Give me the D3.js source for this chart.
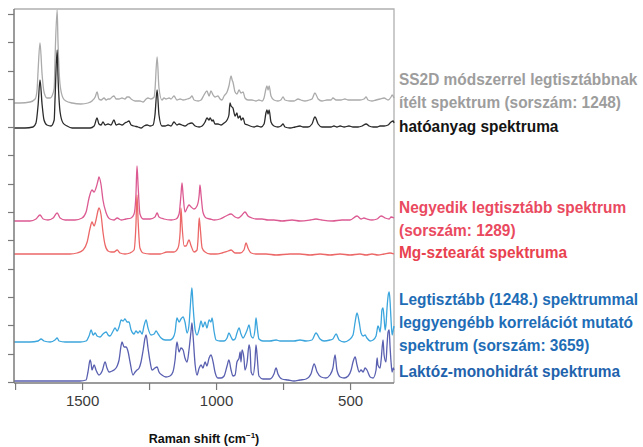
<!DOCTYPE html>
<html>
<head>
<meta charset="utf-8">
<script src="https://cdn.jsdelivr.net/npm/d3@7"></script>
<style>
  body { margin: 0; background: #fff; }
  svg { display: block; font-family: "Liberation Sans", Arial, sans-serif; }
  .line { fill: none; stroke-width: 1.3; stroke-linejoin: round; }
</style>
</head>
<body>
<div id="chart"></div>
<script>
// x: Raman shift (cm-1), y: intensity (a.u., spectra stacked)
var xDomain = [1754, 336];
var xTicks = [1750, 1500, 1250, 1000, 750, 500];
var xTickLabels = [1500, 1000, 500];
var yTicks = [0, 28, 57, 85, 113, 142, 170, 198, 227, 255, 283, 311, 340, 368];

// SS2D módszerrel legtisztábbnak ítélt spektrum
var ss2d = [[1754,279],[1731,279],[1694,280],[1675,283],[1668,292],[1664,312],[1657,339],[1649,307],[1642,290],
  [1631,284],[1619,284],[1612,286],[1604,294],[1601,322],[1593,372],[1590,342],[1582,297],[1571,284],[1560,281],
  [1537,279],[1504,278],[1478,279],[1463,281],[1451,285],[1444,290],[1437,283],[1429,282],[1418,284],[1410,282],
  [1403,283],[1396,283],[1388,285],[1381,286],[1373,283],[1362,283],[1351,284],[1340,283],[1332,285],[1325,285],
  [1317,283],[1302,281],[1284,281],[1272,280],[1261,283],[1254,284],[1243,283],[1231,285],[1228,292],[1220,325],
  [1213,294],[1202,282],[1194,284],[1187,283],[1175,284],[1168,283],[1157,286],[1146,282],[1134,283],[1123,282],
  [1108,283],[1097,284],[1090,286],[1082,282],[1067,281],[1056,282],[1045,287],[1034,291],[1026,286],[1019,291],
  [1011,287],[1004,285],[993,286],[985,283],[978,282],[970,286],[959,290],[952,296],[944,306],[940,302],[937,300],
  [929,290],[922,288],[914,292],[907,289],[899,290],[892,284],[881,282],[866,282],[851,281],[840,282],[828,281],
  [821,284],[813,294],[810,296],[806,292],[802,296],[795,286],[784,282],[769,281],[758,282],[750,285],[743,282],
  [724,281],[709,281],[694,283],[683,282],[668,281],[653,282],[642,283],[631,289],[619,283],[605,281],[586,282],
  [571,282],[564,284],[552,282],[534,282],[519,283],[507,282],[493,282],[478,282],[463,282],[448,283],[440,285],
  [433,282],[418,281],[403,282],[388,283],[373,284],[358,282],[347,285],[343,287],[336,284]];

// hatóanyag spektruma
var api = [[1754,254],[1713,254],[1683,255],[1672,259],[1664,277],[1657,302],[1649,277],[1642,262],[1631,257],
  [1616,256],[1604,262],[1601,282],[1593,332],[1590,307],[1582,270],[1571,259],[1556,256],[1537,254],[1504,254],
  [1470,254],[1455,256],[1444,264],[1437,258],[1429,257],[1422,260],[1414,257],[1403,258],[1392,257],[1381,262],
  [1373,257],[1362,258],[1351,257],[1340,259],[1332,260],[1325,261],[1317,257],[1306,256],[1291,255],[1280,254],
  [1269,256],[1257,257],[1246,256],[1235,257],[1228,267],[1220,292],[1213,267],[1202,256],[1190,256],[1179,257],
  [1168,256],[1157,260],[1146,257],[1138,258],[1127,257],[1116,256],[1104,258],[1090,259],[1078,256],[1063,255],
  [1052,256],[1041,260],[1034,264],[1026,262],[1022,264],[1015,261],[1011,262],[1004,258],[993,258],[981,257],
  [970,259],[959,262],[952,267],[948,279],[944,276],[937,274],[929,266],[922,269],[918,264],[910,266],[907,262],
  [899,264],[892,258],[881,257],[873,256],[858,255],[847,256],[832,255],[821,258],[813,270],[810,272],[806,268],
  [802,272],[795,260],[784,256],[769,255],[758,256],[750,258],[743,255],[724,254],[705,255],[687,256],[675,255],
  [657,255],[642,258],[631,265],[619,258],[605,255],[586,255],[571,255],[560,256],[549,255],[537,256],[522,255],
  [504,256],[489,255],[470,255],[455,256],[440,258],[429,256],[414,255],[399,255],[388,256],[373,256],[358,257],
  [347,260],[339,261],[336,259]];

// Negyedik legtisztább spektrum (sorszám: 1289)
var fourth = [[1754,161],[1694,161],[1672,163],[1657,167],[1645,163],[1627,162],[1608,164],[1593,169],[1582,164],
  [1563,162],[1526,162],[1500,164],[1485,170],[1474,184],[1463,192],[1455,190],[1448,194],[1440,202],[1437,205],
  [1429,197],[1422,182],[1410,169],[1396,163],[1381,162],[1369,164],[1354,162],[1336,163],[1317,164],[1306,168],
  [1299,187],[1295,216],[1291,197],[1284,168],[1272,163],[1246,163],[1228,165],[1220,169],[1213,165],[1194,163],
  [1168,162],[1149,163],[1138,168],[1131,187],[1127,199],[1123,187],[1116,170],[1108,174],[1101,177],[1093,175],
  [1082,173],[1071,176],[1063,187],[1060,197],[1056,187],[1049,170],[1037,164],[1022,163],[1007,162],[985,163],
  [963,166],[944,168],[929,165],[918,164],[903,167],[892,170],[881,166],[866,164],[851,163],[828,163],[806,162],
  [784,162],[754,161],[716,162],[687,161],[649,162],[627,163],[605,162],[567,161],[530,162],[500,162],[474,166],
  [459,163],[448,164],[437,163],[418,162],[399,163],[384,166],[369,164],[354,163],[347,165],[336,164]];

// Mg-sztearát spektruma
var mgst = [[1754,128],[1657,128],[1593,128],[1545,128],[1519,129],[1496,132],[1481,140],[1470,154],[1463,160],
  [1455,156],[1448,162],[1440,172],[1437,174],[1429,167],[1422,150],[1414,137],[1403,131],[1392,130],[1381,130],
  [1369,132],[1358,129],[1340,128],[1321,129],[1306,132],[1299,157],[1295,187],[1291,162],[1284,134],[1272,129],
  [1246,128],[1209,128],[1183,130],[1172,130],[1157,130],[1142,134],[1134,150],[1131,174],[1127,157],[1119,136],
  [1112,136],[1101,142],[1093,136],[1082,130],[1071,132],[1067,144],[1063,164],[1060,157],[1052,134],[1041,130],
  [1022,128],[1000,128],[978,129],[955,131],[944,132],[929,129],[910,129],[896,132],[888,139],[881,134],[869,129],
  [851,128],[813,128],[776,127],[724,128],[687,128],[649,127],[612,128],[575,127],[537,128],[500,127],[463,128],
  [440,127],[418,128],[396,127],[373,128],[351,129],[336,128]];

// Legtisztább (1248.) spektrummal leggyengébb korrelációt mutató spektrum (sorszám: 3659)
var weakest = [[1754,40],[1694,40],[1664,41],[1653,43],[1642,41],[1619,40],[1601,42],[1593,44],[1586,41],[1563,40],
  [1507,40],[1485,41],[1474,46],[1466,52],[1459,47],[1451,49],[1444,46],[1433,45],[1422,48],[1410,50],[1403,47],
  [1396,46],[1384,51],[1377,54],[1369,51],[1362,55],[1354,62],[1347,61],[1340,63],[1332,60],[1325,60],[1317,52],
  [1306,48],[1299,51],[1291,49],[1284,51],[1276,48],[1269,56],[1261,62],[1254,54],[1243,47],[1231,48],[1224,51],
  [1216,48],[1205,44],[1190,42],[1172,42],[1161,44],[1153,50],[1146,64],[1138,60],[1131,63],[1123,65],[1116,60],
  [1108,49],[1101,57],[1097,72],[1093,87],[1090,94],[1086,77],[1078,52],[1071,47],[1063,53],[1056,61],[1049,55],
  [1041,60],[1034,54],[1026,62],[1019,60],[1015,64],[1007,50],[1000,42],[985,41],[970,41],[959,44],[952,49],
  [944,45],[937,42],[929,43],[922,49],[914,54],[907,48],[899,44],[892,47],[884,52],[877,57],[869,46],[862,44],
  [855,52],[851,64],[847,56],[840,43],[825,41],[799,41],[776,42],[761,41],[735,41],[709,41],[687,42],[664,41],
  [642,42],[627,49],[612,43],[597,41],[575,42],[564,43],[552,48],[541,42],[522,40],[504,42],[489,47],[481,60],
  [474,69],[466,60],[459,49],[451,46],[444,47],[437,44],[425,41],[414,42],[403,46],[399,52],[396,56],[392,54],
  [388,50],[384,60],[381,72],[377,74],[373,64],[369,52],[366,57],[362,74],[358,86],[354,90],[351,82],[347,62],
  [343,47],[339,52],[336,56]];

// Laktóz-monohidrát spektruma
var lactose = [[1754,1],[1657,1],[1582,1],[1507,1],[1485,2],[1478,10],[1470,22],[1466,18],[1463,12],[1455,17],
  [1448,12],[1437,7],[1425,11],[1414,20],[1407,14],[1399,10],[1388,11],[1381,12],[1369,16],[1362,22],[1354,37],
  [1351,40],[1343,35],[1336,35],[1328,30],[1321,20],[1310,7],[1302,10],[1295,12],[1287,14],[1280,20],[1272,32],
  [1265,44],[1261,47],[1254,34],[1246,20],[1239,12],[1228,14],[1220,15],[1213,10],[1202,7],[1187,5],[1172,6],
  [1161,10],[1153,22],[1146,40],[1138,30],[1131,34],[1123,32],[1116,24],[1108,20],[1101,32],[1093,52],[1090,59],
  [1086,47],[1078,17],[1071,7],[1063,14],[1056,17],[1049,14],[1041,20],[1034,16],[1026,24],[1019,27],[1011,20],
  [1004,10],[993,4],[981,4],[970,6],[959,16],[952,22],[944,12],[937,6],[929,7],[922,20],[914,24],[910,30],
  [907,20],[903,32],[896,24],[892,12],[884,20],[877,37],[873,32],[869,10],[862,7],[855,20],[851,37],[847,27],
  [840,6],[825,3],[799,3],[784,8],[776,14],[769,8],[754,3],[731,2],[709,1],[687,2],[664,3],[646,8],[634,18],
  [623,10],[608,5],[590,4],[575,7],[564,14],[556,27],[549,12],[537,5],[522,4],[507,6],[496,12],[489,20],[481,25],
  [474,17],[466,10],[459,12],[451,10],[444,14],[437,12],[425,5],[414,4],[403,12],[399,24],[396,17],[388,14],
  [384,22],[377,42],[373,27],[366,20],[362,37],[358,50],[354,52],[351,37],[347,20],[343,10],[339,14],[336,12]];

var seriesData = [ss2d, api, fourth, mgst, weakest, lactose];
var seriesColors = ["#ababab", "#2b2b2b", "#dc5a92", "#ec6767", "#3ba5dd", "#5a60b0"];

var legendLines = [
  ["SS2D módszerrel legtisztábbnak", "ítélt spektrum (sorszám: 1248)"],
  ["hatóanyag spektruma"],
  ["Negyedik legtisztább spektrum", "(sorszám: 1289)"],
  ["Mg-sztearát spektruma"],
  ["Legtisztább (1248.) spektrummal", "leggyengébb korrelációt mutató", "spektrum (sorszám: 3659)"],
  ["Laktóz-monohidrát spektruma"]
];
var legendColors = ["#9d9d9d", "#141414", "#ea4a60", "#e9424f", "#1e6db6", "#1f63ad"];

var w = 643, h = 447;
var plot = {left: 14, right: 394, top: 9, bottom: 383};

var svg = d3.select("#chart").append("svg")
    .attr("width", w)
    .attr("height", h);

var xScale = d3.scaleLinear().domain(xDomain).range([plot.left, plot.right]);
var yScale = d3.scaleLinear().domain([-1, 373]).range([plot.bottom, plot.top]);

// frame (top + right)
svg.append("path")
    .attr("d", "M" + plot.left + "," + plot.top + "H" + plot.right + "V" + plot.bottom)
    .attr("fill", "none")
    .attr("stroke", "#b0b0b0")
    .attr("stroke-width", 1.3);

var line = d3.line()
    .x(function(d) { return xScale(d[0]); })
    .y(function(d) { return yScale(d[1]); })
    .curve(d3.curveMonotoneX);

svg.selectAll("path.line")
    .data(seriesData)
    .enter()
    .append("path")
    .attr("class", "line")
    .attr("d", line)
    .attr("stroke", function(d, i) { return seriesColors[i]; });

// axes
var xAxis = d3.axisBottom(xScale)
    .tickValues(xTicks)
    .tickSize(7)
    .tickFormat(function(d) { return xTickLabels.indexOf(d) >= 0 ? d : ""; });
var gx = svg.append("g")
    .attr("transform", "translate(0," + plot.bottom + ")")
    .call(xAxis);
gx.select(".domain").attr("d", "M" + plot.left + ",0H" + plot.right);

var yAxis = d3.axisLeft(yScale).tickValues(yTicks).tickSize(6).tickFormat("");
var gy = svg.append("g")
    .attr("transform", "translate(" + plot.left + ",0)")
    .call(yAxis);
gy.select(".domain").attr("d", "M0," + plot.top + "V" + plot.bottom);

svg.selectAll(".domain").attr("stroke", "#7a7a7a").attr("stroke-width", 1.5);
svg.selectAll(".tick line").attr("stroke", "#7a7a7a").attr("stroke-width", 1.2);
gx.selectAll(".tick text")
    .attr("y", 12)
    .attr("font-family", "Liberation Sans, Arial, sans-serif")
    .attr("font-size", 15)
    .attr("fill", "#3a3a3a");

// x axis title
var title = svg.append("text")
    .attr("x", (plot.left + plot.right) / 2)
    .attr("y", 443)
    .attr("text-anchor", "middle")
    .attr("font-size", 12.5)
    .attr("font-weight", "bold")
    .attr("fill", "#111");
title.append("tspan").text("Raman shift (cm");
title.append("tspan").attr("font-size", 8).attr("dy", -5).text("−1");
title.append("tspan").attr("dy", 5).text(")");

// labels to the right of the spectra (slightly condensed bold face)
var legendY = [85, 132, 213, 258, 305, 377];
var lineGap = 23;
legendLines.forEach(function(lines, i) {
    var t = svg.append("text")
        .attr("transform", "translate(399," + legendY[i] + ") scale(0.935,1)")
        .attr("font-size", 16.5)
        .attr("font-weight", "bold")
        .attr("fill", legendColors[i]);
    lines.forEach(function(s, j) {
        t.append("tspan")
            .attr("x", 0)
            .attr("dy", j === 0 ? 0 : lineGap)
            .text(s);
    });
});
</script>
</body>
</html>
